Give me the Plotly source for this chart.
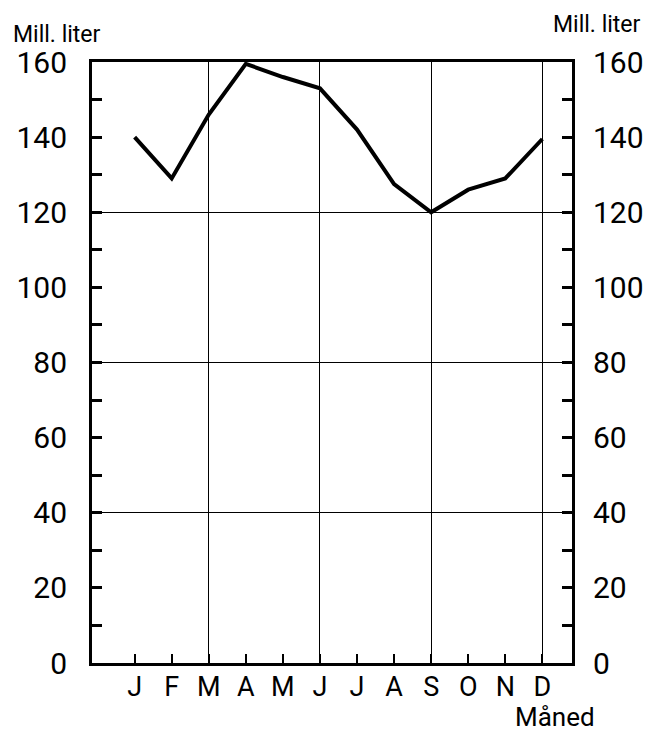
import plotly.graph_objects as go

# Monthly volume, million litres
months = ["J", "F", "M", "A", "M", "J", "J", "A", "S", "O", "N", "D"]
month_pos = list(range(1, 13))
volume = [140, 129, 146, 159.5, 156, 153, 142, 127.5, 120, 126, 129, 139.5]

y_labels = [0, 20, 40, 60, 80, 100, 120, 140, 160]
y_grid = [40, 80, 120]
x_grid = [3, 6, 9, 12]

FONT = "Roboto"
INK = "black"

fig = go.Figure()

fig.add_trace(go.Scatter(
    x=month_pos, y=volume, mode="lines",
    line=dict(color=INK, width=4), showlegend=False, hoverinfo="skip",
))
# invisible copy so the right-hand axis is drawn
fig.add_trace(go.Scatter(
    x=month_pos, y=volume, mode="lines", yaxis="y2",
    line=dict(color="rgba(0,0,0,0)", width=0), showlegend=False, hoverinfo="skip",
))
# invisible copy carrying the horizontal grid
fig.add_trace(go.Scatter(
    x=month_pos, y=volume, mode="lines", yaxis="y3",
    line=dict(color="rgba(0,0,0,0)", width=0), showlegend=False, hoverinfo="skip",
))

tick_font = dict(family=FONT, size=30, color=INK)

fig.update_layout(
    width=656, height=734,
    margin=dict(l=92, r=81, t=62, b=71),
    paper_bgcolor="white", plot_bgcolor="white",
    xaxis=dict(
        range=[-0.15, 12.8], tickvals=month_pos, ticktext=months,
        ticks="inside", ticklen=9, tickwidth=2, tickcolor=INK,
        showline=True, linewidth=3, linecolor=INK, mirror=True,
        showgrid=False, zeroline=False,
        tickfont=dict(family=FONT, size=27, color=INK),
        ticklabelstandoff=-2,
        minor=dict(tickvals=x_grid, showgrid=True, gridcolor=INK, gridwidth=1.3, ticks=""),
    ),
    yaxis=dict(
        range=[0, 160], tickvals=y_labels,
        ticks="inside", ticklen=10, tickwidth=3, tickcolor=INK,
        showline=True, linewidth=3, linecolor=INK,
        showgrid=False, zeroline=False, tickfont=tick_font,
        ticklabelstandoff=16,
        minor=dict(dtick=10, ticks="inside", ticklen=10, tickwidth=3, tickcolor=INK, showgrid=False),
    ),
    yaxis2=dict(
        range=[0, 160], tickvals=y_labels, overlaying="y", side="right",
        ticks="inside", ticklen=10, tickwidth=3, tickcolor=INK,
        showline=True, linewidth=3, linecolor=INK,
        showgrid=False, zeroline=False, tickfont=tick_font,
        ticklabelstandoff=12,
        minor=dict(dtick=10, ticks="inside", ticklen=10, tickwidth=3, tickcolor=INK, showgrid=False),
    ),
    yaxis3=dict(
        range=[0, 160], tickvals=y_grid, overlaying="y", side="left",
        showgrid=True, gridcolor=INK, gridwidth=1.3,
        showticklabels=False, ticks="", showline=False, zeroline=False,
    ),
    annotations=[
        dict(text="Mill. liter", xref="paper", yref="paper", x=-0.168, y=1.045,
             xanchor="left", yanchor="middle", showarrow=False,
             font=dict(family=FONT, size=23, color=INK)),
        dict(text="Mill. liter", xref="paper", yref="paper", x=1.148, y=1.063,
             xanchor="right", yanchor="middle", showarrow=False,
             font=dict(family=FONT, size=23, color=INK)),
        dict(text="Måned", xref="paper", yref="paper", x=0.965, y=-0.118,
             xanchor="center", yanchor="bottom", showarrow=False,
             font=dict(family=FONT, size=26, color=INK)),
    ],
)

fig.write_html("out.html")
